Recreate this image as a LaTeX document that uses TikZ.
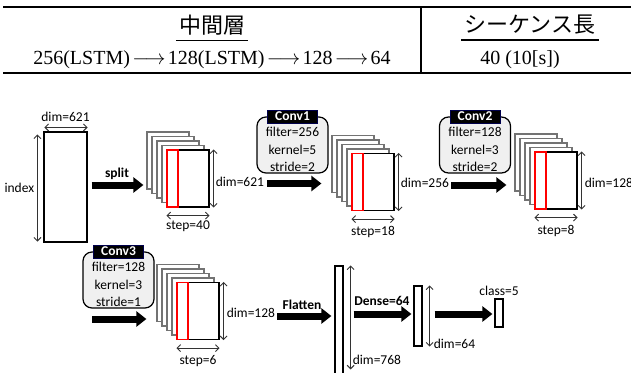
\documentclass[tikz,border=0pt]{standalone}
\usepackage{fontspec}
\setmainfont{Liberation Serif}
\newfontfamily\diagfont{Carlito}
\newfontfamily\cjkfont{Noto Sans CJK JP}
\usetikzlibrary{arrows.meta,positioning,calc}
\newcommand{\tabarrow}{$\mkern2mu\longrightarrow\mkern2mu$}
\tikzset{
  layerbox/.style={draw=black, line width=1.2pt, fill=white, minimum width=42pt, minimum height=57pt, inner sep=0pt},
  backbox/.style={layerbox, draw=black!55},
  redstrip/.style={draw=red, line width=1.2pt, minimum width=11pt, minimum height=57pt, inner sep=0pt, anchor=north west},
  barbox/.style={draw=black, line width=1.2pt, fill=white, minimum width=8pt, inner sep=0pt},
  bigarrow/.style={-{Triangle[length=10pt,width=15pt]}, line width=7pt, draw=black},
  dimarrow/.style={{Straight Barb[length=3.5pt,width=7pt]}-{Straight Barb[length=3.5pt,width=7pt]}, line width=1pt, draw=black!80},
  convbox/.style={draw=black, line width=1.2pt, fill=black!6, rounded corners=9pt, minimum width=71pt, minimum height=56pt, inner sep=0pt},
  convtag/.style={draw=blue!30!black, line width=0.6pt, fill=black, text=white, font=\diagfont\bfseries\fontsize{13.5}{14}\selectfont, minimum width=50pt, minimum height=13pt, inner sep=0pt},
  convtext/.style={align=center, font=\diagfont\fontsize{13.5}{17.5}\selectfont, inner sep=0pt},
  lbl/.style={font=\diagfont\fontsize{13.5}{14}\selectfont, inner sep=0pt},
  boldlbl/.style={font=\diagfont\bfseries\fontsize{13.5}{14}\selectfont, inner sep=0pt},
  tabtext/.style={font=\fontsize{20}{22}\selectfont, inner sep=0pt},
  cjktext/.style={font=\cjkfont\fontsize{22}{24}\selectfont, inner sep=0pt},
}

\begin{document}
\begin{tikzpicture}[x=1pt, y=-1pt]
    \path[fill=white] (0,0) rectangle (631,372);
    \useasboundingbox (0,0) rectangle (631,372);

    % table
    \draw[line width=2pt] (3,7) -- (640,7);
    \draw[line width=2pt] (3,73) -- (640,73);
    \draw[line width=1.5pt] (421,7) -- (421,73);
    \node[cjktext] (mid) at (212,25) {中間層};
    \node[cjktext] (seq) at (530,25) {シーケンス長};
    \draw[line width=1.2pt] ($(mid.south west)+(-3,5)$) -- ($(mid.south east)+(3,5)$);
    \draw[line width=1.2pt] ($(seq.south west)+(-3,5)$) -- ($(seq.south east)+(3,5)$);
    \node[tabtext] (midval) at (212,60) {256(LSTM)\tabarrow128(LSTM)\tabarrow128\tabarrow64};
    \node[tabtext] (seqval) at (520,60) {40 (10[s])};

    % input
    \node[layerbox, minimum width=43pt, minimum height=110pt] (in) at (65.5,187) {};
    \draw[dimarrow] ($(in.north west)+(1,-4)$) -- ($(in.north east)+(0,-4)$);
    \draw[dimarrow] ($(in.north west)+(-6,3)$) -- ($(in.south west)+(-6,-1)$);
    \node[lbl] (dtop) at ($(in.north)+(0,-15)$) {dim=621};
    \node[lbl, anchor=east] (idx) at ($(in.west)+(-9,1)$) {index};

    % layer stacks
    \foreach \s/\cx/\cy in {s1/188/178.5, s2/373/182, s3/556/180.5, s4/198/311}{
      \foreach \k in {4,3,2,1}
        \node[backbox] at (\cx-5*\k, \cy-4.5*\k) {};
      \node[layerbox] (\s) at (\cx,\cy) {};
      \node[redstrip] at (\s.north west) {};
      \draw[dimarrow] ($(\s.north east)+(4,0)$) -- ($(\s.south east)+(4,0)$);
      \draw[dimarrow] ($(\s.south west)+(0,8)$) -- ($(\s.south east)+(0,8)$);
    }
    \node[lbl, anchor=west] (d1) at ($(s1.east)+(6,3)$) {dim=621};
    \node[lbl, anchor=west] (d2) at ($(s2.east)+(6,1)$) {dim=256};
    \node[lbl, anchor=west] (d3) at ($(s3.east)+(7,2)$) {dim=128};
    \node[lbl, anchor=west] (d4) at ($(s4.east)+(7,2)$) {dim=128};
    \node[lbl] (st1) at ($(s1.south)+(0,19)$) {step=40};
    \node[lbl] (st2) at ($(s2.south)+(0,21)$) {step=18};
    \node[lbl] (st3) at ($(s3.south)+(0,21)$) {step=8};
    \node[lbl] (st4) at ($(s4.south)+(0,21)$) {step=6};

    % conv blocks
    \node[convbox] (c1) at (292.5,145) {};
    \node[convbox] (c2) at (475,145) {};
    \node[convbox] (c3) at (118.5,280) {};
    \node[convtag] (t1) at (c1.north) {Conv1};
    \node[convtag] (t2) at (c2.north) {Conv2};
    \node[convtag] (t3) at (c3.north) {Conv3};
    \node[convtext] (p1) at ($(c1.center)+(0,4.5)$) {filter=256\\kernel=5\\stride=2};
    \node[convtext] (p2) at ($(c2.center)+(0,4.5)$) {filter=128\\kernel=3\\stride=2};
    \node[convtext] (p3) at ($(c3.center)+(0,4.5)$) {filter=128\\kernel=3\\stride=1};

    % dense part
    \node[barbox, minimum height=120pt] (flat) at (339,326) {};
    \node[barbox, minimum height=60pt] (dense) at (418,316) {};
    \node[barbox, minimum height=28pt] (cls) at (499,313) {};
    \draw[dimarrow] ($(flat.north east)+(7,0)$) -- ($(flat.north east)+(7,104)$);
    \draw[dimarrow] ($(dense.north east)+(7,0)$) -- ($(dense.south east)+(7,0)$);
    \node[lbl, anchor=west] (d768) at ($(flat.north east)+(9,94)$) {dim=768};
    \node[lbl, anchor=west] (d64) at ($(dense.south east)+(11,-3)$) {dim=64};
    \node[lbl, above=3pt of cls] (ncls) {class=5};

    % arrows
    \coordinate (row2) at (92,319);
    \node[boldlbl] (spl) at (117,174) {split};
    \node[boldlbl] (fl) at (302,305) {Flatten};
    \node[boldlbl] (dn) at (382,301) {Dense=64};
    \draw[bigarrow] ($(in.east)+(4,-2)$) -- ($(s1.west |- in.east)+(-23,-2)$);
    \draw[bigarrow] ($(d1.east)+(3,2)$) -- ($(s2.west |- d1.east)+(-30,2)$);
    \draw[bigarrow] ($(d2.east)+(2,2)$) -- ($(s3.west |- d2.east)+(-28,2)$);
    \draw[bigarrow] (row2) -- ($(s4.west |- row2)+(-30,0)$);
    \draw[bigarrow] ($(d4.east)+(2,3)$) -- ($(flat.west |- d4.east)+(-3,3)$);
    \draw[bigarrow] ($(flat.east |- dense.west)+(10,-2)$) -- ($(dense.west)+(-2,-2)$);
    \draw[bigarrow] ($(dense.east)+(12,-2)$) -- ($(cls.west)+(-2,1)$);
\end{tikzpicture}
\end{document}
